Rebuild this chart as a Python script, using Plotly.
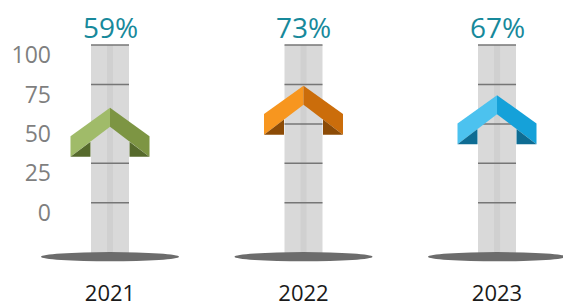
import plotly.graph_objects as go

# ---- data ----
years = ["2021", "2022", "2023"]
values = [59, 73, 67]
pct_labels = ["59%", "73%", "67%"]
y_ticks = [0, 25, 50, 75, 100]
y_tick_text = ["0", "25", "50", "75", "100"]

# ---- style ----
light_cols = ["#a0bb69", "#f7961f", "#4cc2ef"]
mid_cols = ["#7d9543", "#cb6d0b", "#15a1d9"]
dark_cols = ["#566a2c", "#8c4b06", "#0e6c93"]

W, H = 563, 306
PX_X = 193.5          # pixels per category step
PX_Y = 1.577          # pixels per value unit
sx = 1.0 / PX_X
sy = 1.0 / PX_Y

Y_MIN, Y_MAX = -40.1, 128.6
X_MIN, X_MAX = -0.5685, 2.341
TUBE_HALF = 19 * sx
TUBE_BOTTOM = -33
LABEL_SHIFT = 6.3     # y-tick labels sit ~10px below grid lines
APEX_OFFSET = 1.2

xs = list(range(len(years)))

fig = go.Figure()

# tubes
fig.add_trace(go.Bar(x=xs, y=[y_ticks[-1] - TUBE_BOTTOM] * len(xs), base=TUBE_BOTTOM,
                     width=2 * TUBE_HALF, marker=dict(color="#d9d9d9", line=dict(width=0)),
                     hoverinfo="skip", showlegend=False))
fig.add_trace(go.Bar(x=xs, y=[y_ticks[-1] - TUBE_BOTTOM] * len(xs), base=TUBE_BOTTOM,
                     width=6 * sx, marker=dict(color="#d0d0d0", line=dict(width=0)),
                     hoverinfo="skip", showlegend=False))

# grid lines across tubes
gx, gy = [], []
for c in xs:
    for t in y_ticks:
        gx += [c - TUBE_HALF, c + TUBE_HALF, None]
        gy += [t, t, None]
fig.add_trace(go.Scatter(x=gx, y=gy, mode="lines", line=dict(color="#767676", width=1.5),
                         hoverinfo="skip", showlegend=False))


def poly(c, a, pts, color):
    x = [c + dx * sx for dx, dy in pts]
    y = [a - dy * sy for dx, dy in pts]
    x.append(x[0]); y.append(y[0])
    return go.Scatter(x=x, y=y, mode="lines", fill="toself", fillcolor=color,
                      line=dict(width=0, color=color), hoverinfo="skip", showlegend=False)


for i, c in enumerate(xs):
    a = values[i] + APEX_OFFSET
    w, t1, inner, bot, tri = 39.5, 28.3, 19, 49, 19.5
    tri_y = inner + tri * (bot - inner) / w
    fig.add_trace(poly(c, a, [(-w, t1), (0, 0), (0, inner), (-w, bot)], light_cols[i]))
    fig.add_trace(poly(c, a, [(w, t1), (0, 0), (0, inner), (w, bot)], mid_cols[i]))
    fig.add_trace(poly(c, a, [(-w, bot), (-tri, tri_y), (-tri, bot)], dark_cols[i]))
    fig.add_trace(poly(c, a, [(w, bot), (tri, tri_y), (tri, bot)], dark_cols[i]))

# dummy trace for label axis
fig.add_trace(go.Scatter(x=[None], y=[None], yaxis="y2", showlegend=False, hoverinfo="skip"))

shapes = []
for c in xs:
    shapes.append(dict(type="circle", xref="x", yref="y", layer="above",
                       x0=c - 69 * sx, x1=c + 69 * sx,
                       y0=-34.2 - 2.9, y1=-34.2 + 2.9,
                       fillcolor="#6c6c6c", line=dict(width=0)))

annotations = []
for i, c in enumerate(xs):
    annotations.append(dict(x=c, y=y_ticks[-1], xref="x", yref="y", text=pct_labels[i],
                            showarrow=False, yanchor="middle", yshift=18,
                            font=dict(family="Open Sans", size=28, color="#17899b")))

fig.update_layout(
    width=W, height=H, margin=dict(l=0, r=0, t=0, b=40),
    paper_bgcolor="white", plot_bgcolor="white",
    barmode="overlay", shapes=shapes, annotations=annotations,
    xaxis=dict(range=[X_MIN, X_MAX], tickvals=xs, ticktext=years, showgrid=False,
               zeroline=False, showline=False, ticks="", ticklabelstandoff=12,
               automargin=False,
               tickfont=dict(family="Open Sans", size=22, color="#1a1a1a"), fixedrange=True),
    yaxis=dict(range=[Y_MIN, Y_MAX], visible=False, fixedrange=True, automargin=False),
    yaxis2=dict(range=[Y_MIN + LABEL_SHIFT, Y_MAX + LABEL_SHIFT], overlaying="y",
                anchor="free", position=51 / W, side="left", automargin=False,
                tickvals=y_ticks, ticktext=y_tick_text, showgrid=False, zeroline=False,
                showline=False, ticks="",
                tickfont=dict(family="Open Sans", size=23, color="#7f7f7f"), fixedrange=True),
    showlegend=False,
)

fig.write_html("out.html", config={"displayModeBar": False},
               post_script="document.body.style.margin='0';document.body.style.overflow='hidden';")
